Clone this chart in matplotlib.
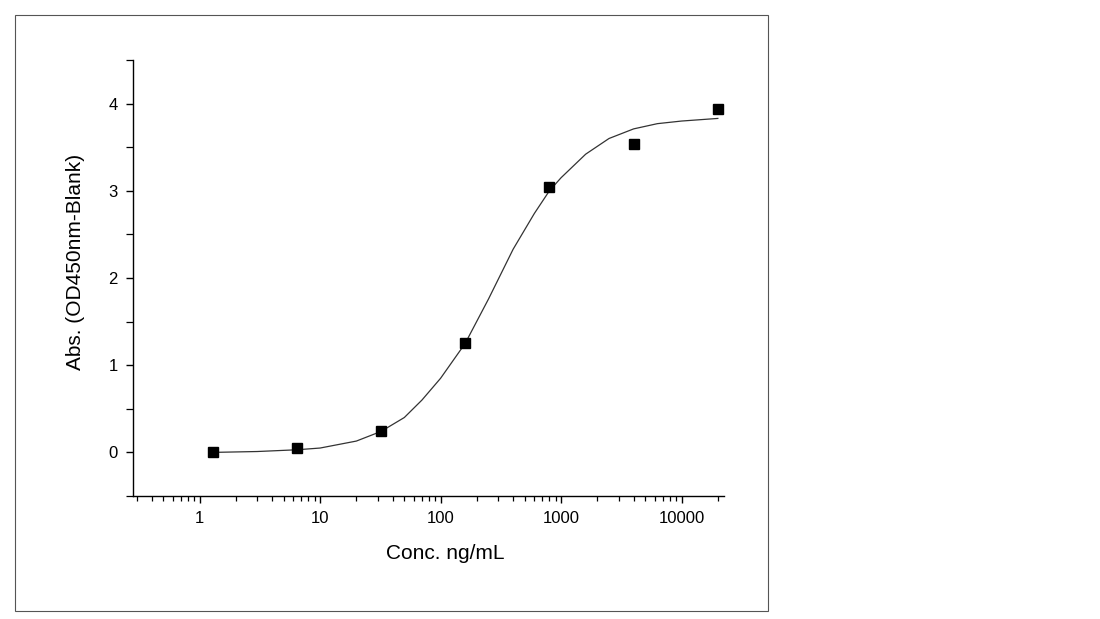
import matplotlib
matplotlib.use("Agg")
import matplotlib.pyplot as plt
from matplotlib.ticker import FixedLocator, LogLocator, NullFormatter, FixedFormatter
from matplotlib.patches import Rectangle

plt.rcParams['font.family'] = ['Liberation Sans', 'DejaVu Sans']

# Measured points
conc = [1.28, 6.4, 32, 160, 800, 4000, 20000]
absorb = [0.00, 0.05, 0.25, 1.25, 3.04, 3.54, 3.94]

# Fitted curve
curve_x = [1.28, 3, 6.4, 10, 20, 32, 50, 70, 100, 160, 250, 400, 600, 800,
           1000, 1600, 2500, 4000, 6300, 10000, 20000]
curve_y = [0.00, 0.01, 0.03, 0.05, 0.13, 0.24, 0.40, 0.60, 0.85, 1.25, 1.76,
           2.33, 2.74, 3.00, 3.15, 3.42, 3.60, 3.71, 3.77, 3.80, 3.83]

x_ticks = [1, 10, 100, 1000, 10000]
x_labels = ['1', '10', '100', '1000', '10000']
y_ticks = [0, 1, 2, 3, 4]

fig = plt.figure(figsize=(11, 6.19), dpi=100)
fig.patch.set_facecolor('white')

# outer frame
fig.patches.append(Rectangle((15/1100, 1-611/619), (768-15)/1100, (611-15)/619,
                             transform=fig.transFigure, fill=False,
                             edgecolor='#555555', linewidth=0.8))

ax = fig.add_axes([133/1100, 1-496/619, (724-133)/1100, (496-60)/619])
ax.set_xscale('log')
ax.plot(curve_x, curve_y, color='#333333', linewidth=0.9)
ax.plot(conc, absorb, linestyle='none', marker='s', markersize=6.6,
        color='black')

ax.set_xlim(0.28, 22500)
ax.set_ylim(-0.5, 4.5)
ax.spines['top'].set_visible(False)
ax.spines['right'].set_visible(False)
for s in ('left', 'bottom'):
    ax.spines[s].set_linewidth(1.0)

ax.xaxis.set_major_locator(FixedLocator(x_ticks))
ax.xaxis.set_major_formatter(FixedFormatter(x_labels))
ax.xaxis.set_minor_locator(LogLocator(base=10, subs=range(2, 10)))
ax.xaxis.set_minor_formatter(NullFormatter())
ax.yaxis.set_major_locator(FixedLocator(y_ticks))
ax.yaxis.set_minor_locator(FixedLocator([-0.5, 0.5, 1.5, 2.5, 3.5, 4.5]))

ax.tick_params(axis='both', which='major', direction='out', length=5,
               width=1.0, labelsize=12, pad=6)
ax.tick_params(axis='x', which='minor', direction='out', length=3.5, width=0.9)
ax.tick_params(axis='y', which='minor', direction='out', length=5, width=0.9)

ax.set_xlabel('Conc. ng/mL', fontsize=15, labelpad=13)
ax.set_ylabel('Abs. (OD450nm-Blank)', fontsize=15, labelpad=17)
ax.xaxis.label.set_x(0.528)
ax.yaxis.label.set_y(0.537)

fig.savefig('out.png', dpi=100, facecolor='white')
